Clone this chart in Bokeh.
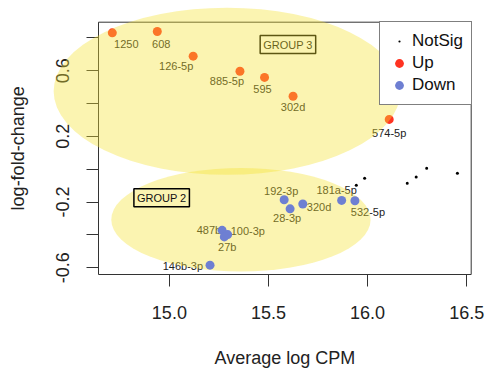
import math
from bokeh.plotting import figure
from bokeh.models import (ColumnDataSource, Range1d, FixedTicker, PrintfTickFormatter,
                          BoxAnnotation, Legend, LegendItem, Label)
from bokeh.core.properties import value
from bokeh.embed import file_html
from bokeh.resources import INLINE

# ---------------- data ----------------
NOTSIG_X = [15.943, 15.985, 16.200, 16.245, 16.298, 16.453]
NOTSIG_Y = [-0.097, -0.055, -0.085, -0.048, 0.006, -0.024]

UP_NAMES = ["1250", "608", "126-5p", "885-5p", "595", "302d", "574-5p"]
UP_X = [14.712, 14.939, 15.120, 15.356, 15.480, 15.624, 16.109]
UP_Y = [0.830, 0.838, 0.688, 0.596, 0.559, 0.444, 0.303]

DOWN_NAMES = ["146b-3p", "487b", "100-3p", "27b", "192-3p", "28-3p", "320d", "181a-5p", "532-5p"]
DOWN_X = [15.205, 15.266, 15.294, 15.277, 15.579, 15.609, 15.673, 15.869, 15.936]
DOWN_Y = [-0.584, -0.372, -0.398, -0.412, -0.186, -0.241, -0.212, -0.190, -0.192]

X_TICKS = [15.0, 15.5, 16.0, 16.5]
Y_TICKS_LABELED = [-0.6, -0.2, 0.2, 0.6]
Y_TICKS_UNLABELED = [-0.4, 0.0, 0.4, 0.8]

GROUP_NAMES = ["GROUP 3", "GROUP 2"]
GROUP_X = [15.598, 14.961]
GROUP_Y = [0.759, -0.174]

ELLIPSE_X = [15.291, 15.361]
ELLIPSE_Y = [0.4745, -0.307]
ELLIPSE_W = [1.750, 1.308]
ELLIPSE_H = [1.018, 0.630]

# label placement (screen-pixel offsets, alignment)
LABEL_POS = {
    "1250": (14, 11, "center"), "608": (4, 12, "center"), "126-5p": (-17, 10, "center"),
    "885-5p": (-13, 10, "center"), "595": (-2, 12, "center"), "302d": (0, 11, "center"),
    "574-5p": (0, 14, "center"),
    "146b-3p": (-7, 1, "right"), "487b": (-1, 0, "right"), "100-3p": (3, -4, "left"),
    "27b": (3, 10, "center"), "192-3p": (-3, -9, "center"), "28-3p": (-3, 9, "center"),
    "320d": (4, 3, "left"), "181a-5p": (-5, -10, "center"), "532-5p": (13, 11, "center"),
}

UP_COLOR = "#FF3322"
DOWN_COLOR = "#6E7FD2"
YELLOW = "#F5E132"
YELLOW_ALPHA = 0.38
FONT = "Liberation Sans"

# ---------------- layout ----------------
W, H = 485, 369
ML, MR, MT, MB = 98, 14.3, 21.7, 95

allx = NOTSIG_X + UP_X + DOWN_X
ally = NOTSIG_Y + UP_Y + DOWN_Y
rx = max(allx) - min(allx)
ry = max(ally) - min(ally)
bx0, bx1 = min(allx) - 0.04 * rx, max(allx) + 0.04 * rx
by0, by1 = min(ally) - 0.04 * ry, max(ally) + 0.04 * ry
kx = (W - ML - MR) / (bx1 - bx0)
ky = (H - MT - MB) / (by1 - by0)

p = figure(width=W, height=H,
           x_range=Range1d(bx0 - ML / kx, bx1 + MR / kx),
           y_range=Range1d(by0 - MB / ky, by1 + MT / ky),
           output_backend="svg", toolbar_location=None, min_border=0,
           outline_line_color=None, background_fill_color="white",
           border_fill_color="white")
p.grid.visible = False

xa = p.xaxis[0]
xa.fixed_location = by0
xa.ticker = FixedTicker(ticks=X_TICKS)
xa.formatter = PrintfTickFormatter(format="%.1f")
xa.axis_line_color = None
xa.major_tick_out = 12
xa.major_tick_in = 0
xa.major_tick_line_color = "#333333"
xa.minor_tick_line_color = None
xa.major_label_standoff = 19
xa.major_label_text_font = FONT
xa.major_label_text_font_size = "18px"
xa.major_label_text_color = "#222222"

ya = p.yaxis[0]
ya.fixed_location = bx0
ya.ticker = FixedTicker(ticks=Y_TICKS_LABELED, minor_ticks=Y_TICKS_UNLABELED)
ya.formatter = PrintfTickFormatter(format="%.1f")
ya.axis_line_color = None
ya.major_tick_out = 12
ya.major_tick_in = 0
ya.minor_tick_out = 12
ya.minor_tick_in = 0
ya.major_tick_line_color = "#333333"
ya.minor_tick_line_color = "#333333"
ya.major_label_orientation = "vertical"
ya.major_label_standoff = 17
ya.major_label_text_font = FONT
ya.major_label_text_font_size = "18px"
ya.major_label_text_color = "#222222"

box = BoxAnnotation(left=bx0, right=bx1, bottom=by0, top=by1,
                    fill_color=None, fill_alpha=0, line_color="#333333",
                    line_alpha=1, line_width=1)
p.add_layout(box)

p.add_layout(Label(x=(bx0 + bx1) / 2, y=12, y_units="screen", text="Average log CPM",
                   text_align="center", text_baseline="middle", text_font=FONT,
                   text_font_size="18px", text_color="#222222"))
p.add_layout(Label(x=17, x_units="screen", y=(by0 + by1) / 2, text="log-fold-change",
                   angle=math.pi / 2, text_align="center", text_baseline="middle",
                   text_font=FONT, text_font_size="18px", text_color="#222222"))

# ---------------- glyphs ----------------
r_ns = p.scatter(NOTSIG_X, NOTSIG_Y, marker="dot", size=12, color="black")
r_up = p.scatter(UP_X, UP_Y, marker="circle", size=9, fill_color=UP_COLOR, line_color=None)


def label_source(names, xs, ys):
    return ColumnDataSource(dict(
        x=xs, y=ys, text=names,
        dx=[LABEL_POS[n][0] for n in names],
        dy=[LABEL_POS[n][1] for n in names],
        align=[LABEL_POS[n][2] for n in names]))


for names, xs, ys in ((UP_NAMES, UP_X, UP_Y), (DOWN_NAMES, DOWN_X, DOWN_Y)):
    p.text(x="x", y="y", text="text", x_offset="dx", y_offset="dy", text_align="align",
           text_baseline="middle", text_font=value(FONT), text_font_size="11px",
           text_color="#222222", source=label_source(names, xs, ys))

for name, gx, gy in zip(GROUP_NAMES, GROUP_X, GROUP_Y):
    p.add_layout(Label(x=gx, y=gy, text=name, text_align="center", text_baseline="middle",
                       text_font=FONT, text_font_size="11px", text_color="#111111",
                       border_line_color="black", border_line_width=1.5,
                       background_fill_color=None, padding=3))

# lower ellipse (under the blue points)
p.ellipse(x=ELLIPSE_X[1:], y=ELLIPSE_Y[1:], width=ELLIPSE_W[1:], height=ELLIPSE_H[1:],
          fill_color=YELLOW, fill_alpha=YELLOW_ALPHA, line_color=None)
r_down = p.scatter(DOWN_X, DOWN_Y, marker="circle", size=9, fill_color=DOWN_COLOR, line_color=None)
# upper ellipse (on top of everything)
p.ellipse(x=ELLIPSE_X[:1], y=ELLIPSE_Y[:1], width=ELLIPSE_W[:1], height=ELLIPSE_H[:1],
          fill_color=YELLOW, fill_alpha=YELLOW_ALPHA, line_color=None, level="overlay")

legend = Legend(items=[LegendItem(label="NotSig", renderers=[r_ns]),
                       LegendItem(label="Up", renderers=[r_up]),
                       LegendItem(label="Down", renderers=[r_down])],
                location=(379, 264), border_line_color="black", border_line_width=1,
                background_fill_color="white", background_fill_alpha=1,
                label_text_font=FONT, label_text_font_size="17px",
                label_text_color="#111111",
                glyph_width=22, glyph_height=22, label_height=22, label_standoff=2,
                padding=8, spacing=0, margin=0)
p.add_layout(legend)

open("out.html", "w").write(file_html(p, INLINE))
